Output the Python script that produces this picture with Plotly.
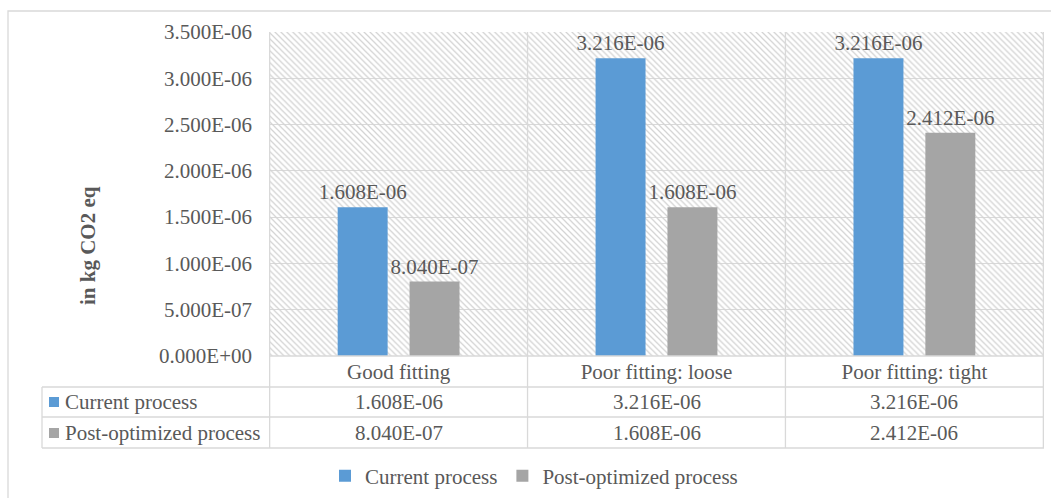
import plotly.graph_objects as go

# ---- data -------------------------------------------------------------
categories = ["Good fitting", "Poor fitting: loose", "Poor fitting: tight"]
series_names = ["Current process", "Post-optimized process"]
current_process = [1.608e-06, 3.216e-06, 3.216e-06]
post_optimized = [8.040e-07, 1.608e-06, 2.412e-06]
y_ticks = [0, 0.5e-06, 1.0e-06, 1.5e-06, 2.0e-06, 2.5e-06, 3.0e-06, 3.5e-06]
y_title = "in kg CO2 eq"

# ---- style ------------------------------------------------------------
FONT = "Liberation Serif, Times New Roman, serif"
TXT = "#595959"
LINE = "#D9D9D9"
COLORS = ["#5B9BD5", "#A5A5A5"]
FS = 21

W_FIG, H_FIG = 1051, 498
L, R, T, B = 269, 7, 32, 142
PW, PH = W_FIG - L - R, H_FIG - T - B


def px_x(p):
    return (p - L) / PW


def px_y(p):
    return (T + PH - p) / PH


def fmt(v):
    return f"{v:.3E}"


fig = go.Figure()

# hatched plot-area background on a hidden numeric axis
fig.add_trace(go.Bar(
    x=[0.5], y=[y_ticks[-1]], width=[1.0],
    marker=dict(color="rgba(255,255,255,0)", line=dict(width=0),
                pattern=dict(shape="\\", size=4.2, solidity=0.3,
                             fgcolor="#D3D3D3", bgcolor="rgba(255,255,255,0)",
                             fillmode="replace")),
    hoverinfo="skip", showlegend=False, xaxis="x", yaxis="y",
))

for name, vals, col in zip(series_names, [current_process, post_optimized], COLORS):
    fig.add_trace(go.Bar(
        x=categories, y=vals, name=name, xaxis="x2", yaxis="y",
        marker=dict(color=col, line=dict(width=0)),
        text=[fmt(v) for v in vals], textposition="outside",
        constraintext="none",
        textfont=dict(family=FONT, size=FS, color=TXT),
        cliponaxis=False,
    ))

shapes = []
# outer chart border
shapes.append(dict(type="rect", xref="paper", yref="paper",
                   x0=px_x(8), x1=px_x(1080), y0=px_y(11), y1=px_y(520),
                   line=dict(color=LINE, width=1.3), layer="below"))
# category dividers through plot and data table
for k in range(len(categories) + 1):
    shapes.append(dict(type="line", xref="x2", yref="paper",
                       x0=k - 0.5, x1=k - 0.5, y0=px_y(448), y1=1,
                       line=dict(color=LINE, width=1.3)))
# table row rules
shapes.append(dict(type="line", xref="paper", yref="paper",
                   x0=0, x1=1, y0=0, y1=0, line=dict(color=LINE, width=1.3)))
for yy in [387, 417, 448]:
    shapes.append(dict(type="line", xref="paper", yref="paper",
                       x0=px_x(42), x1=1, y0=px_y(yy), y1=px_y(yy),
                       line=dict(color=LINE, width=1.3)))
shapes.append(dict(type="line", xref="paper", yref="paper",
                   x0=px_x(42), x1=px_x(42), y0=px_y(448), y1=px_y(387),
                   line=dict(color=LINE, width=1.3)))

annotations = []
# data table rows
row_centers = [402, 433]
for name, vals, col, yc in zip(series_names, [current_process, post_optimized], COLORS, row_centers):
    shapes.append(dict(type="rect", xref="paper", yref="paper",
                       x0=px_x(49), x1=px_x(59), y0=px_y(yc + 5), y1=px_y(yc - 5),
                       fillcolor=col, line=dict(width=0)))
    annotations.append(dict(xref="paper", yref="paper", x=px_x(63), y=px_y(yc),
                            text=name, showarrow=False, xanchor="left", yanchor="middle",
                            font=dict(family=FONT, size=FS, color=TXT)))
    for cat, v in zip(categories, vals):
        annotations.append(dict(xref="x2", yref="paper", x=cat, y=px_y(yc),
                                text=fmt(v), showarrow=False, xanchor="center",
                                yanchor="middle",
                                font=dict(family=FONT, size=FS, color=TXT)))

# y-axis title
annotations.append(dict(xref="paper", yref="paper", x=px_x(88), y=px_y(246),
                        text=f"<b>{y_title}</b>", textangle=-90, showarrow=False,
                        xanchor="center", yanchor="middle",
                        font=dict(family=FONT, size=FS, color=TXT)))

fig.update_layout(
    width=W_FIG, height=H_FIG,
    margin=dict(l=L, r=R, t=T, b=B, autoexpand=False),
    paper_bgcolor="white", plot_bgcolor="white",
    barmode="group", bargap=0.4426, bargroupgap=0.305,
    font=dict(family=FONT, size=FS, color=TXT),
    xaxis=dict(range=[0, 1], visible=False, fixedrange=True, automargin=False),
    xaxis2=dict(overlaying="x", anchor="y", side="bottom", type="category",
                showgrid=False, zeroline=False, showline=False, ticks="",
                ticklabelstandoff=1, automargin=False,
                tickfont=dict(family=FONT, size=FS, color=TXT)),
    yaxis=dict(range=[0, y_ticks[-1]], tickvals=y_ticks,
               ticktext=[fmt(v) for v in y_ticks],
               showgrid=True, gridcolor=LINE, gridwidth=1.3,
               zeroline=False, showline=False, ticks="",
               ticklabelstandoff=16, automargin=False,
               tickfont=dict(family=FONT, size=FS, color=TXT)),
    legend=dict(orientation="h", x=px_x(534), xanchor="center",
                y=px_y(476), yanchor="middle",
                font=dict(family=FONT, size=FS, color=TXT),
                bgcolor="rgba(0,0,0,0)"),
    shapes=shapes,
    annotations=annotations,
)

fig.write_html("out.html")
